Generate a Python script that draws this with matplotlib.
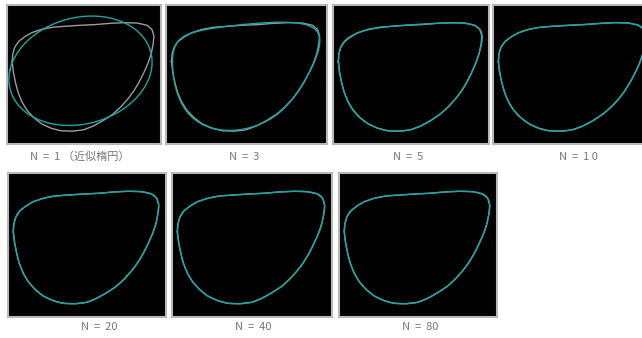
import numpy as np
import matplotlib
matplotlib.use("Agg")
import matplotlib.pyplot as plt

plt.rcParams['font.family'] = ['Noto Sans CJK JP', 'DejaVu Sans']

# Original contour (pixel units of a 158 x 144 image frame)
contour_x = [5.3, 6.0, 8.0, 12.0, 18.0, 25.3, 35.3, 47.0, 60.3, 75.3, 90.3, 105.3, 120.3,
             133.7, 143.7, 148.7, 150.7, 150.0, 148.0, 144.7, 140.3, 135.3, 129.7, 123.7,
             117.0, 108.7, 98.7, 88.7, 78.7, 67.0, 55.3, 45.3, 35.3, 27.0, 20.3, 15.3,
             11.3, 8.7, 6.7]
contour_y = [58.7, 50.3, 43.7, 37.7, 33.0, 28.7, 25.3, 23.0, 22.0, 21.0, 20.3, 19.0, 18.3,
             18.7, 21.0, 25.3, 32.0, 40.3, 50.3, 60.3, 70.3, 80.3, 89.7, 97.7, 105.3,
             113.0, 119.7, 125.3, 129.3, 130.7, 130.3, 127.7, 123.0, 116.3, 108.7, 100.3,
             90.3, 80.3, 70.3]

harmonics = [1, 3, 5, 10, 20, 40, 80]
labels = ["N = 1 （近似楕円）", "N = 3", "N = 5", "N = 1 0", "N = 20", "N = 40", "N = 80"]

# panel boxes in pixels: (left, top, width, height)
W, H = 642, 338
boxes = [(7, 5, 154, 139), (166, 5, 161, 139), (333, 5, 156, 139), (493, 5, 160, 139),
         (8, 173, 158, 144), (172, 173, 160, 144), (339, 173, 158, 144)]
label_pos = [(80, 157), (244, 157), (408, 157), (578, 157), (99, 327), (253, 327), (420, 327)]

z = np.array(contour_x) + 1j * np.array(contour_y)
n = len(z)
coef = np.fft.fft(z) / n
k_all = np.fft.fftfreq(n, d=1.0 / n).astype(int)
t = np.linspace(0, 1, 600)


def reconstruct(N):
    Nk = min(N, n // 2 - 1) if n % 2 == 0 else min(N, n // 2)
    zz = np.zeros_like(t, dtype=complex)
    for c, k in zip(coef, k_all):
        if abs(k) <= Nk:
            zz += c * np.exp(2j * np.pi * k * t)
    return zz

fig = plt.figure(figsize=(W / 100, H / 100), dpi=100)
fig.patch.set_facecolor('white')

orig_x = np.append(contour_x, contour_x[0])
orig_y = np.append(contour_y, contour_y[0])

for N, lab, (l, tp, w, h), (lx, ly) in zip(harmonics, labels, boxes, label_pos):
    ax = fig.add_axes([l / W, 1 - (tp + h) / H, w / W, h / H])
    ax.set_facecolor('black')
    ax.plot(orig_x, orig_y, color='#9c9c9c', lw=1.0)
    zz = reconstruct(N)
    ax.plot(zz.real, zz.imag, color='#1aa6a6', lw=1.0)
    ax.set_xlim(0, 158)
    ax.set_ylim(144, 0)
    ax.set_xticks([])
    ax.set_yticks([])
    for s in ax.spines.values():
        s.set_color('#b8b8b8')
        s.set_linewidth(1.5)
    fig.text(lx / W, 1 - ly / H, lab.replace(" = ", "  =  "), ha='center', va='center',
             fontsize=8, color='#777777')

fig.savefig('out.png', dpi=100, facecolor='white')
